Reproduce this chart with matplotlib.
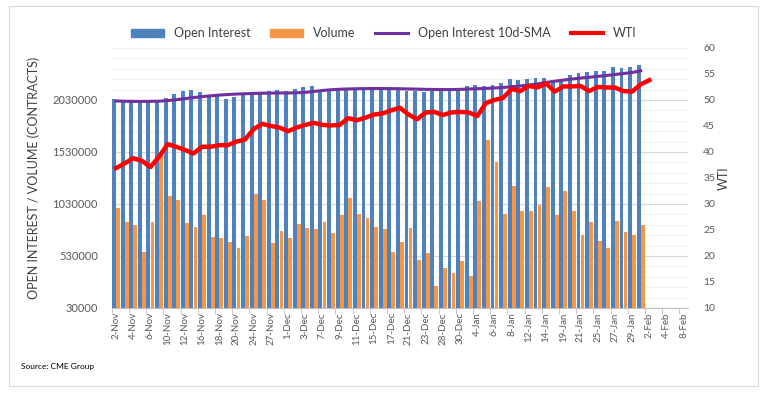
import numpy as np
import matplotlib
matplotlib.use("Agg")
import matplotlib.pyplot as plt
from matplotlib.lines import Line2D
from matplotlib.patches import Patch, Rectangle

plt.rcParams['font.family'] = ['Lato', 'DejaVu Sans']

dates = ["2-Nov", "3-Nov", "4-Nov", "5-Nov", "6-Nov", "9-Nov", "10-Nov", "11-Nov", "12-Nov", "13-Nov",
         "16-Nov", "17-Nov", "18-Nov", "19-Nov", "20-Nov", "23-Nov", "24-Nov", "25-Nov", "27-Nov", "30-Nov",
         "1-Dec", "2-Dec", "3-Dec", "4-Dec", "7-Dec", "8-Dec", "9-Dec", "10-Dec", "11-Dec", "14-Dec",
         "15-Dec", "16-Dec", "17-Dec", "18-Dec", "21-Dec", "22-Dec", "23-Dec", "24-Dec", "28-Dec", "29-Dec",
         "30-Dec", "31-Dec", "4-Jan", "5-Jan", "6-Jan", "7-Jan", "8-Jan", "11-Jan", "12-Jan", "13-Jan",
         "14-Jan", "15-Jan", "19-Jan", "20-Jan", "21-Jan", "22-Jan", "25-Jan", "26-Jan", "27-Jan", "28-Jan",
         "29-Jan", "1-Feb", "2-Feb", "3-Feb", "4-Feb", "5-Feb", "8-Feb"]

open_interest = [2040000, 2020000, 2015000, 2015000, 2018000, 2020000, 2047000, 2083000, 2116000, 2126000,
                 2107000, 2071000, 2078000, 2036000, 2055000, 2078000, 2087000, 2103000, 2116000, 2122000,
                 2114000, 2131000, 2150000, 2160000, 2130000, 2135000, 2140000, 2140000, 2142000, 2145000,
                 2140000, 2140000, 2138000, 2130000, 2112000, 2112000, 2110000, 2112000, 2112000, 2119000,
                 2122000, 2160000, 2172000, 2160000, 2173000, 2193000, 2231000, 2221000, 2231000, 2243000,
                 2243000, 2225000, 2235000, 2272000, 2285000, 2294000, 2310000, 2313000, 2346000, 2336000,
                 2349000, 2365000]

volume = [992000, 859000, 830000, 572000, 859000, 1497000, 1107000, 1073000, 849000, 811000,
          923000, 715000, 703000, 667000, 610000, 722000, 1130000, 1073000, 658000, 773000,
          706000, 837000, 801000, 789000, 859000, 754000, 923000, 1088000, 935000, 897000,
          811000, 789000, 569000, 667000, 801000, 492000, 562000, 246000, 419000, 371000,
          483000, 333000, 1054000, 1641000, 1433000, 935000, 1200000, 964000, 964000, 1022000,
          1191000, 923000, 1156000, 964000, 734000, 859000, 674000, 610000, 865000, 763000,
          731000, 830000]

oi_sma = [2020000, 2018000, 2016000, 2016000, 2017000, 2018000, 2024000, 2032000, 2043000, 2053000,
          2062000, 2070000, 2077000, 2082000, 2087000, 2090000, 2093000, 2095000, 2096000, 2097000,
          2097000, 2099000, 2103000, 2112000, 2121000, 2128000, 2133000, 2136000, 2138000, 2139000,
          2140000, 2140000, 2139000, 2138000, 2136000, 2134000, 2132000, 2131000, 2130000, 2130000,
          2132000, 2135000, 2138000, 2141000, 2145000, 2150000, 2157000, 2165000, 2173000, 2185000,
          2198000, 2210000, 2221000, 2231000, 2240000, 2248000, 2256000, 2265000, 2275000, 2284000,
          2294000, 2310000]

wti = [36.9, 37.8, 38.8, 38.3, 37.1, 39.1, 41.5, 41.0, 40.4, 39.7,
       41.0, 41.0, 41.3, 41.3, 42.0, 42.4, 44.4, 45.4, 45.0, 44.7,
       44.0, 44.7, 45.2, 45.6, 45.2, 45.1, 45.2, 46.5, 46.1, 46.6,
       47.2, 47.4, 48.0, 48.5, 47.2, 46.3, 47.6, 47.7, 47.1, 47.6,
       47.7, 47.6, 46.9, 49.4, 50.0, 50.4, 52.1, 51.7, 52.7, 52.4,
       53.2, 51.6, 52.6, 52.6, 52.7, 51.7, 52.5, 52.4, 52.4, 51.7,
       51.6, 53.0, 53.8]

blue = '#4F81BD'
orange = '#F79646'
purple = '#7030A0'
red = '#FF0000'
grey = '#595959'

fig = plt.figure(figsize=(7.68, 3.94), dpi=100)
ax = fig.add_axes([0.1455, 0.2183, 0.7503, 0.66])

x = np.arange(len(open_interest))
ax.bar(x - 0.235, open_interest, width=0.45, color=blue, zorder=2)
ax.bar(x + 0.235, volume, width=0.45, color=orange, zorder=2)
ax.plot(x, oi_sma, color=purple, linewidth=2.2, zorder=3)

ax.set_xlim(-0.5, len(dates) - 0.5)
ax.set_ylim(30000, 2530000)
ax.set_yticks(np.arange(30000, 2030001, 500000))
ax.set_yticklabels([str(v) for v in range(30000, 2030001, 500000)])
ax.set_yticks(np.arange(30000, 2530001, 100000), minor=True)
ax.grid(axis='y', which='major', color='#d9d9d9', linewidth=0.9, zorder=0)
ax.grid(axis='y', which='minor', color='#f0f0f0', linewidth=0.8, zorder=0)
ax.set_axisbelow(True)

pos = np.arange(len(dates))
ax.set_xticks(pos[::2])
ax.set_xticklabels(dates[::2], rotation=90)
ax.set_xticks(np.arange(-0.5, len(dates), 2), minor=True)
ax.tick_params(axis='x', which='major', length=0, labelsize=7, colors=grey, pad=3)
ax.tick_params(axis='x', which='minor', length=4, color='#bfbfbf')
ax.tick_params(axis='y', which='both', length=0, labelsize=8, colors=grey, pad=10)

for s in ['top', 'right', 'left']:
    ax.spines[s].set_visible(False)
ax.spines['bottom'].set_color('#bfbfbf')

ax.set_ylabel('OPEN INTEREST / VOLUME (CONTRACTS)', fontsize=9, color='#404040', labelpad=9)

ax2 = ax.twinx()
ax2.plot(np.arange(len(wti)), wti, color=red, linewidth=3.2, zorder=4)
ax2.set_ylim(10, 60)
ax2.set_yticks(np.arange(10, 61, 5))
ax2.tick_params(axis='y', length=0, labelsize=7.5, colors=grey, pad=11)
for s in ['top', 'right', 'left', 'bottom']:
    ax2.spines[s].set_visible(False)
ax2.set_ylabel('WTI', fontsize=9, color='#404040', labelpad=2)

handles = [Patch(color=blue), Patch(color=orange),
           Line2D([], [], color=purple, linewidth=2.2),
           Line2D([], [], color=red, linewidth=3)]
labels = ['Open Interest', 'Volume', 'Open Interest 10d-SMA', 'WTI']
fig.legend(handles, labels, loc='center', bbox_to_anchor=(0.5, 0.915), ncol=4,
           frameon=False, fontsize=9, handlelength=2.6, handleheight=0.7,
           columnspacing=1.6, labelcolor='#404040')

fig.text(0.027, 0.063, 'Source: CME Group', fontsize=6, color='black')
fig.patches.append(Rectangle((0.012, 0.02), 0.975, 0.965, transform=fig.transFigure,
                             fill=False, edgecolor='#d9d9d9', linewidth=0.8))

fig.savefig('out.png', dpi=100)
